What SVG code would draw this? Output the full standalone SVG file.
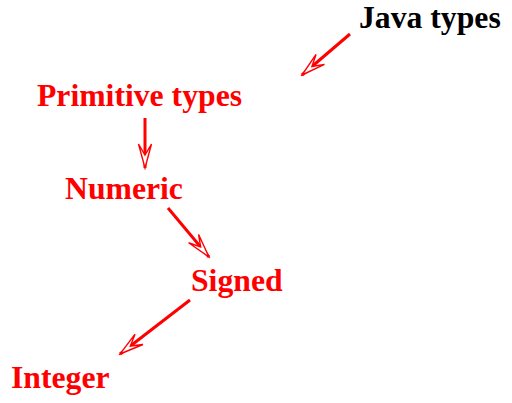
<svg xmlns="http://www.w3.org/2000/svg" width="512" height="403" viewBox="0 0 512 403">
  <style>
    .lbl { font-family: "Liberation Serif", "Times New Roman", serif; font-weight: bold; font-size: 31.7px; }
    .red { fill: #ff0000; }
    .blk { fill: #000000; }
    .edge { stroke: #ff0000; stroke-width: 3; fill: none; marker-end: url(#head); }
  </style>
  <defs>
    <!-- open indented arrowhead, tip at origin pointing +x -->
    <marker id="head" viewBox="-26 -9 28 18" markerWidth="28" markerHeight="18" refX="0" refY="0" orient="auto" markerUnits="userSpaceOnUse">
      <path d="M0,0 L-24,-6.5 L-13,0 L-24,6.5 Z" fill="#ffffff" stroke="#ff0000" stroke-width="1.4" stroke-linejoin="miter"/>
    </marker>
  </defs>
  <rect width="512" height="403" fill="#ffffff"/>

  <g id="connectors">
    <line class="edge" x1="350" y1="34" x2="302" y2="75"/>
    <line class="edge" x1="145" y1="118" x2="145" y2="168"/>
    <line class="edge" x1="168" y1="208" x2="209" y2="257"/>
    <line class="edge" x1="190" y1="300" x2="120" y2="354"/>
  </g>

  <g id="java-types"><text class="lbl blk" x="359" y="28">Java types</text></g>
  <g id="primitive-types"><text class="lbl red" x="37" y="106">Primitive types</text></g>
  <g id="numeric"><text class="lbl red" x="65" y="199">Numeric</text></g>
  <g id="signed"><text class="lbl red" x="191" y="291">Signed</text></g>
  <g id="integer"><text class="lbl red" x="11" y="388">Integer</text></g>
</svg>
